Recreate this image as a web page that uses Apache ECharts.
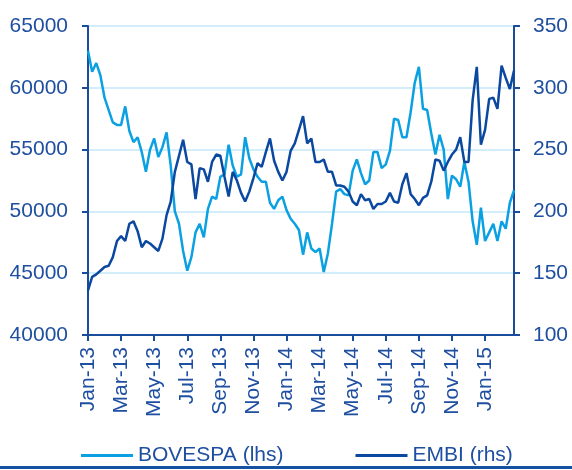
<!DOCTYPE html>
<html>
<head>
<meta charset="utf-8">
<script src="https://cdn.jsdelivr.net/npm/echarts@6/dist/echarts.min.js"></script>
<style>
  html, body { margin: 0; padding: 0; background: #fff; }
  #chart { width: 572px; height: 470px; }
</style>
</head>
<body>
<div id="chart"></div>
<script>
  // month labels, four weekly points per month (Jan-13 .. Feb-15)
  const months = ['Jan-13','Feb-13','Mar-13','Apr-13','May-13','Jun-13','Jul-13','Aug-13','Sep-13','Oct-13','Nov-13','Dec-13',
    'Jan-14','Feb-14','Mar-14','Apr-14','May-14','Jun-14','Jul-14','Aug-14','Sep-14','Oct-14','Nov-14','Dec-14',
    'Jan-15','Feb-15'];
  const weeksPerMonth = 4;

  // BOVESPA index (left axis)
  const bovespa = [63000,61300,62000,61000,59200,58200,57200,57000,57000,58500,
    56500,55600,56000,54800,53200,55000,55900,54400,55200,56400,
    53700,50000,49000,46800,45200,46300,48300,49000,47900,50200,
    51200,51000,52800,53000,55400,53700,52800,53000,56000,54300,
    53400,52800,52400,52400,50700,50200,50900,51200,50100,49400,
    49000,48500,46500,48300,47000,46700,47000,45100,46600,49000,
    51600,51800,51400,51300,53300,54200,53100,52200,52500,54800,
    54800,53500,53800,54900,57500,57400,56000,56000,58000,60400,
    61700,58300,58200,56300,54600,56200,55000,51000,52900,52600,
    52000,54000,52400,49200,47300,50300,47600,48300,49000,47600,
    49200,48600,50700,51700];

  // EMBI spread (right axis)
  const embi = [136,147,149,152,155,156,163,176,180,176,
    190,192,184,171,176,174,171,168,178,197,
    208,232,245,258,240,238,210,235,234,224,
    240,246,245,228,212,232,225,215,208,216,
    227,239,236,248,259,241,232,225,232,249,
    255,266,277,255,259,240,240,242,232,232,
    221,221,220,216,208,205,214,209,210,202,
    206,206,208,215,208,207,222,231,214,210,
    205,211,213,224,242,241,233,240,246,250,
    260,240,240,290,317,254,266,291,292,283,
    318,308,299,314];

  let categories = [];
  months.forEach(m => {
    for (let w = 1; w <= weeksPerMonth; w++) categories.push(m + '|' + w);
  });
  // show a label every second month
  const showTick = (idx) => idx % (weeksPerMonth * 2) === 0;

  const axisColor = '#1A4C9C';
  const textColor = '#1F4FA0';
  const font = 'Liberation Sans, Arial, sans-serif';
  const fs = 21;

  let option = {
    animation: false,
    textStyle: { fontFamily: font },
    grid: { left: 88, right: 58, top: 26, bottom: 135 },
    legend: {
      left: 76,
      top: 440,
      icon: 'rect',
      itemWidth: 52,
      itemHeight: 3,
      itemGap: 72,
      textStyle: { color: textColor, fontSize: fs, fontFamily: font },
      data: ['BOVESPA (lhs)', 'EMBI (rhs)']
    },
    xAxis: {
      type: 'category',
      boundaryGap: false,
      data: categories,
      axisLine: { lineStyle: { color: axisColor, width: 2 } },
      axisTick: { interval: showTick, length: 6, lineStyle: { color: axisColor, width: 2 } },
      axisLabel: {
        interval: showTick,
        rotate: 90,
        margin: 12,
        color: textColor,
        fontSize: fs,
        fontFamily: font,
        formatter: v => v.split('|')[0]
      },
      splitLine: { show: false }
    },
    yAxis: [
      {
        type: 'value',
        min: 40000,
        max: 65000,
        interval: 5000,
        axisLine: { show: true, lineStyle: { color: axisColor, width: 2 } },
        axisTick: { show: true, length: 6, lineStyle: { color: axisColor, width: 2 } },
        axisLabel: { margin: 20, color: textColor, fontSize: fs, fontFamily: font, formatter: v => String(v) },
        splitLine: { lineStyle: { color: '#C6E7F8', width: 1.5 } }
      },
      {
        type: 'value',
        min: 100,
        max: 350,
        interval: 50,
        position: 'right',
        axisLine: { show: true, lineStyle: { color: axisColor, width: 2 } },
        axisTick: { show: true, length: 6, lineStyle: { color: axisColor, width: 2 } },
        axisLabel: { margin: 19, color: textColor, fontSize: fs, fontFamily: font },
        splitLine: { show: false }
      }
    ],
    series: [
      {
        name: 'BOVESPA (lhs)',
        type: 'line',
        yAxisIndex: 0,
        symbol: 'none',
        itemStyle: { color: '#0AA0E2' },
        lineStyle: { color: '#0AA0E2', width: 2.5 },
        data: bovespa
      },
      {
        name: 'EMBI (rhs)',
        type: 'line',
        yAxisIndex: 1,
        symbol: 'none',
        itemStyle: { color: '#0B48A0' },
        lineStyle: { color: '#0B48A0', width: 2.5 },
        data: embi
      }
    ],
    graphic: [
      {
        type: 'rect',
        left: 0,
        top: 466,
        shape: { width: 572, height: 3 },
        style: { fill: '#1552A2' }
      }
    ]
  };

  let myChart = echarts.init(document.getElementById('chart'));
  myChart.setOption(option);
</script>
</body>
</html>
